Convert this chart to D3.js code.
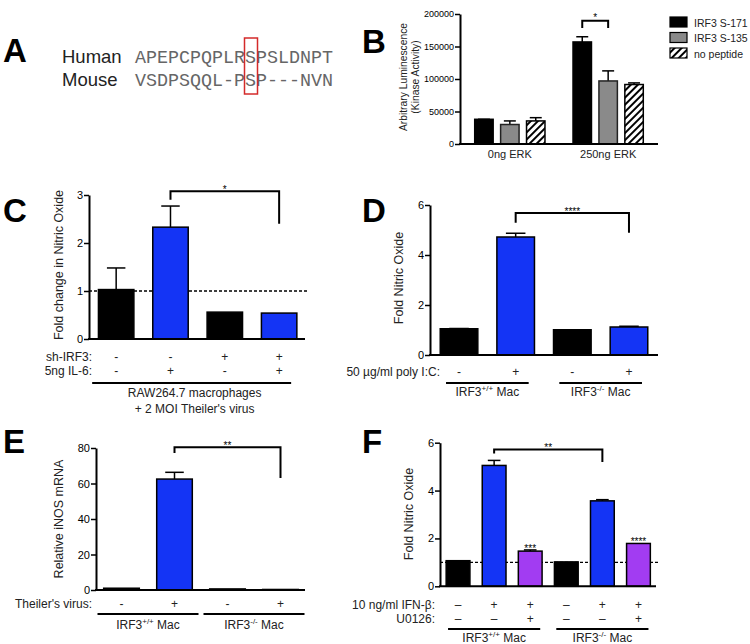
<!DOCTYPE html>
<html><head><meta charset="utf-8">
<script src="https://cdn.jsdelivr.net/npm/d3@7"></script>
<style>body{margin:0;background:#fff}svg text{font-family:"Liberation Sans",Arial,sans-serif;fill:#000}</style>
</head><body><svg id="c" width="750" height="644"></svg>
<script>
// ---------- Panel A data ----------
const seqSpecies = ["Human", "Mouse"];
const seqStrings = ["APEPCPQPLRSPSLDNPT", "VSDPSQQL-PSP---NVN"];
const seqHighlightIndex = 10;

// ---------- Panel B data ----------
const bGroups = ["0ng ERK", "250ng ERK"];
const bSeries = ["IRF3 S-171", "IRF3 S-135", "no peptide"];
const bMeans = [[38000, 30000, 35500], [157000, 97000, 91500]];
const bErrTop = [[38000, 35500, 40500], [165000, 112500, 94000]];
const bTicks = [0, 50000, 100000, 150000, 200000];
const bBracket = {from: [1, 0], to: [1, 1], top: 189700, end: 178500, label: "*"};

// ---------- Panel C data ----------
const cValues = [1.03, 2.33, 0.56, 0.54];
const cErrTop = [1.48, 2.77, null, null];
const cColors = ["black", "blue", "black", "blue"];
const cTicks = [0, 1, 2, 3];
const cRows = [["sh-IRF3:", ["-", "-", "+", "+"]], ["5ng IL-6:", ["-", "+", "-", "+"]]];
const cBracket = {from: 1, to: 3, top: 3.08, leftEnd: 2.9, rightEnd: 2.4, label: "*"};

// ---------- Panel D data ----------
const dValues = [1.05, 4.72, 1.01, 1.12];
const dErrTop = [1.06, 4.87, null, 1.15];
const dColors = ["black", "blue", "black", "blue"];
const dTicks = [0, 2, 4, 6];
const dRows = [["50 \u00b5g/ml poly I:C:", ["-", "+", "-", "+"]]];
const dBracket = {from: 1, to: 3, top: 5.68, leftEnd: 5.29, rightEnd: 4.89, label: "****"};

// ---------- Panel E data ----------
const eValues = [1.0, 62.5, 0.6, 0.3];
const eErrTop = [null, 66.3, null, null];
const eColors = ["black", "blue", "black", "blue"];
const eTicks = [0, 20, 40, 60, 80];
const eRows = [["Theiler's virus:", ["-", "+", "-", "+"]]];
const eBracket = {from: 1, to: 3, top: 80.4, leftEnd: 77.2, rightEnd: 63.1, label: "**"};

// ---------- Panel F data ----------
const fValues = [1.07, 5.05, 1.47, 1.02, 3.57, 1.79];
const fErrTop = [null, 5.26, 1.52, null, 3.62, null];
const fColors = ["black", "blue", "purple", "black", "blue", "purple"];
const fTicks = [0, 2, 4, 6];
const fRows = [["10 ng/ml IFN-\u03b2:", ["\u2013", "+", "+", "\u2013", "+", "+"]],
               ["U0126:", ["\u2013", "\u2013", "+", "\u2013", "\u2013", "+"]]];
const fStars = ["", "", "***", "", "", "****"];
const fBracket = {from: 1, to: 4, top: 5.72, leftEnd: 5.55, rightEnd: 5.19, label: "**"};

const groupLabels = [["+/+"], ["-/-"]];

// ---------- styles ----------
const palette = {black: "#000000", blue: "#1434f5", purple: "#a23cf2", gray: "#8a8a8a"};
const svg = d3.select("#c");

const defs = svg.append("defs");
const pat = defs.append("pattern").attr("id", "hatch").attr("patternUnits", "userSpaceOnUse")
  .attr("width", 5).attr("height", 5).attr("patternTransform", "rotate(45)");
pat.append("rect").attr("width", 5).attr("height", 5).attr("fill", "#fff");
pat.append("line").attr("x1", 1).attr("x2", 1).attr("y1", 0).attr("y2", 5)
  .attr("stroke", "#000").attr("stroke-width", 2);

// panel letters
const letters = [["A", 3, 62], ["B", 362, 53], ["C", 3, 222], ["D", 362, 222], ["E", 3, 453], ["F", 362, 453]];
svg.selectAll("text.letter").data(letters).join("text").attr("class", "letter")
  .attr("x", d => d[1]).attr("y", d => d[2]).text(d => d[0])
  .style("font-size", "33px").style("font-weight", "bold");

// ---------- Panel A ----------
const ga = svg.append("g");
seqSpecies.forEach((s, i) => {
  const yb = 63 + i * 23;
  ga.append("text").attr("x", 62).attr("y", yb).text(s).style("font-size", "18.5px").style("fill", "#222");
  ga.append("text").attr("x", 135).attr("y", yb).text(seqStrings[i])
    .attr("textLength", 198).attr("lengthAdjust", "spacingAndGlyphs")
    .style("font-family", "'Liberation Mono', monospace").style("font-size", "18px").style("fill", "#666");
});
{
  const cw = 198 / seqStrings[0].length;
  ga.append("rect").attr("x", 135 + seqHighlightIndex * cw - 0.5).attr("y", 38)
    .attr("width", cw + 2).attr("height", 56).attr("fill", "none")
    .attr("stroke", "#d42a2a").attr("stroke-width", 1.5);
}

// ---------- helpers ----------
function yAxis(g, y, x, ticks, fs) {
  const ax = d3.axisLeft(y).tickValues(ticks).tickSize(5).tickSizeOuter(0).tickPadding(1).tickFormat(d3.format("d"));
  const a = g.append("g").attr("transform", `translate(${x},0)`).call(ax);
  a.select(".domain").attr("stroke-width", 2).attr("stroke", "#000");
  a.selectAll(".tick line").attr("stroke-width", 1.5);
  a.selectAll(".tick text").style("font-size", fs).style("font-family", "'Liberation Sans',Arial,sans-serif").attr("fill", "#222");
}

function barPanel(o) {
  const g = svg.append("g");
  const n = o.values.length;
  const x = d3.scaleBand().domain(d3.range(n)).range([o.x0, o.x1]).paddingInner(o.pad).paddingOuter(o.pad / 2);
  const y = d3.scaleLinear().domain([0, o.ymax]).range([o.yb, o.yt]);
  const cx = i => x(i) + x.bandwidth() / 2;
  if (o.dash) {
    g.append("line").attr("x1", o.axisX).attr("x2", o.dashEnd).attr("y1", y(1)).attr("y2", y(1))
      .attr("stroke", "#000").attr("stroke-width", 1.3).attr("stroke-dasharray", "3,2");
  }
  o.errs.forEach((e, i) => {
    if (e == null) return;
    const w = x.bandwidth() * 0.25;
    g.append("line").attr("x1", cx(i)).attr("x2", cx(i)).attr("y1", y(o.values[i])).attr("y2", y(e))
      .attr("stroke", "#000").attr("stroke-width", 1.5);
    g.append("line").attr("x1", cx(i) - w).attr("x2", cx(i) + w).attr("y1", y(e)).attr("y2", y(e))
      .attr("stroke", "#000").attr("stroke-width", 1.5);
  });
  g.selectAll("rect.bar").data(o.values).join("rect").attr("class", "bar")
    .attr("x", (d, i) => x(i) + 0.75).attr("width", x.bandwidth() - 1.5)
    .attr("y", d => y(d)).attr("height", d => y(0) - y(d))
    .attr("fill", (d, i) => palette[o.colors[i]]).attr("stroke", "#000").attr("stroke-width", 1.5);
  yAxis(g, y, o.axisX, o.ticks, "11px");
  g.append("line").attr("x1", o.axisX - 1).attr("x2", o.xEnd).attr("y1", y(0)).attr("y2", y(0))
    .attr("stroke", "#000").attr("stroke-width", 2);
  g.append("text").attr("transform", `translate(${o.ylabX},${o.ylabY}) rotate(-90)`)
    .attr("text-anchor", "middle").text(o.ylab).style("font-size", "12.5px").style("fill", "#222");
  const b = o.bracket;
  g.append("path").attr("d", `M${cx(b.from)},${y(b.leftEnd)}V${y(b.top)}H${cx(b.to)}V${y(b.rightEnd)}`)
    .attr("fill", "none").attr("stroke", "#000").attr("stroke-width", 2);
  g.append("text").attr("x", (cx(b.from) + cx(b.to)) / 2).attr("y", y(b.top) + 2)
    .attr("text-anchor", "middle").text(b.label).style("font-size", "10px");
  if (o.stars) o.stars.forEach((s, i) => {
    if (!s) return;
    g.append("text").attr("x", cx(i)).attr("y", y(Math.max(o.values[i], o.errs[i] || 0)) + 2)
      .attr("text-anchor", "middle").text(s).style("font-size", "10px");
  });
  o.rows.forEach((r, k) => {
    const yb = o.rowY[k];
    g.append("text").attr("x", o.rowLabX).attr("y", yb).attr("text-anchor", "end").text(r[0])
      .style("font-size", "12px").style("fill", "#222");
    r[1].forEach((s, i) => g.append("text").attr("x", cx(i)).attr("y", yb).attr("text-anchor", "middle")
      .text(s).style("font-size", "12px").style("fill", "#222"));
  });
  o.groups.forEach((gr, k) => {
    const x1 = cx(gr.from) - o.ext[0], x2 = cx(gr.to) + o.ext[1];
    g.append("line").attr("x1", x1).attr("x2", x2).attr("y1", o.lineY).attr("y2", o.lineY)
      .attr("stroke", "#000").attr("stroke-width", 2);
    const mid = (x1 + x2) / 2;
    if (gr.lines) {
      gr.lines.forEach((t, j) => g.append("text").attr("x", mid + 3).attr("y", o.groupY + j * 16)
        .attr("text-anchor", "middle").text(t).style("font-size", "12px").style("fill", "#222"));
    } else {
      const t = g.append("text").attr("x", mid).attr("y", o.groupY).attr("text-anchor", "middle")
        .style("font-size", "12px").style("fill", "#222");
      t.append("tspan").text("IRF3");
      t.append("tspan").text(groupLabels[gr.g][0]).attr("dy", -5).style("font-size", "8px");
      t.append("tspan").text(" Mac").attr("dy", 5);
    }
  });
}

// ---------- Panel B ----------
{
  const g = svg.append("g");
  const x0 = d3.scaleBand().domain(d3.range(bGroups.length)).range([460, 658]).paddingInner(0.27).paddingOuter(0.142);
  const x1 = d3.scaleBand().domain(d3.range(bSeries.length)).range([0, x0.bandwidth()]).paddingInner(0.23);
  const y = d3.scaleLinear().domain([0, 200000]).range([144, 14]);
  const fills = [palette.black, palette.gray, "url(#hatch)"];
  bMeans.forEach((vals, gi) => {
    vals.forEach((v, si) => {
      const bx = x0(gi) + x1(si), cx = bx + x1.bandwidth() / 2, w = x1.bandwidth() * 0.3;
      const e = bErrTop[gi][si];
      g.append("line").attr("x1", cx).attr("x2", cx).attr("y1", y(v)).attr("y2", y(e)).attr("stroke", "#000").attr("stroke-width", 1.5);
      g.append("line").attr("x1", cx - w).attr("x2", cx + w).attr("y1", y(e)).attr("y2", y(e)).attr("stroke", "#000").attr("stroke-width", 1.5);
      g.append("rect").attr("x", bx + 0.75).attr("width", x1.bandwidth() - 1.5).attr("y", y(v)).attr("height", y(0) - y(v))
        .attr("fill", fills[si]).attr("stroke", si === 1 ? "#222" : "#000").attr("stroke-width", 1.5);
    });
  });
  yAxis(g, y, 460, bTicks, "9px");
  g.append("line").attr("x1", 459).attr("x2", 658).attr("y1", y(0)).attr("y2", y(0)).attr("stroke", "#000").attr("stroke-width", 2);
  bGroups.forEach((t, i) => g.append("text").attr("x", x0(i) + x0.bandwidth() / 2).attr("y", 158)
    .attr("text-anchor", "middle").text(t).style("font-size", "11px").style("fill", "#222"));
  const lab = g.append("text").attr("transform", "translate(407,77) rotate(-90)").attr("text-anchor", "middle")
    .style("font-size", "10.3px").style("fill", "#222");
  lab.append("tspan").attr("x", 0).text("Arbitrary Luminescence");
  lab.append("tspan").attr("x", 0).attr("dy", 12).text("(Kinase Activity)");
  const c = (gi, si) => x0(gi) + x1(si) + x1.bandwidth() / 2;
  const bxa = c(...bBracket.from), bxb = c(...bBracket.to);
  g.append("path").attr("d", `M${bxa},${y(bBracket.end)}V${y(bBracket.top)}H${bxb}V${y(bBracket.end)}`)
    .attr("fill", "none").attr("stroke", "#000").attr("stroke-width", 2);
  g.append("text").attr("x", (bxa + bxb) / 2).attr("y", y(bBracket.top)).attr("text-anchor", "middle").text(bBracket.label).style("font-size", "10px");
  bSeries.forEach((s, i) => {
    const ly = 17 + i * 15.5;
    g.append("rect").attr("x", 670).attr("y", ly).attr("width", 17).attr("height", 10)
      .attr("fill", fills[i]).attr("stroke", "#000").attr("stroke-width", 1.2);
    g.append("text").attr("x", 694).attr("y", ly + 9.5).text(s).style("font-size", "10.5px").style("fill", "#222");
  });
}

// ---------- Panel C ----------
barPanel({values: cValues, errs: cErrTop, colors: cColors, ticks: cTicks, ymax: 3,
  x0: 89, x1: 306.3, pad: 0.32, yb: 339, yt: 195, axisX: 89, xEnd: 305,
  dash: true, dashEnd: 307, ylab: "Fold change in Nitric Oxide", ylabX: 63, ylabY: 265,
  bracket: cBracket, rows: cRows, rowY: [361, 375], rowLabX: 92,
  groups: [{from: 0, to: 3, lines: ["RAW264.7 macrophages", "+ 2 MOI Theiler's virus"]}],
  ext: [24, 12], lineY: 383, groupY: 397});

// ---------- Panel D ----------
barPanel({values: dValues, errs: dErrTop, colors: dColors, ticks: dTicks, ymax: 6,
  x0: 430.7, x1: 657.3, pad: 0.31, yb: 355, yt: 205, axisX: 430, xEnd: 658,
  ylab: "Fold Nitric Oxide", ylabX: 403, ylabY: 278,
  bracket: dBracket, rows: dRows, rowY: [376], rowLabX: 440,
  groups: [{from: 0, to: 1, g: 0}, {from: 2, to: 3, g: 1}],
  ext: [13, 13], lineY: 383, groupY: 396});

// ---------- Panel E ----------
barPanel({values: eValues, errs: eErrTop, colors: eColors, ticks: eTicks, ymax: 80,
  x0: 95, x1: 307, pad: 0.3, yb: 590, yt: 448, axisX: 96, xEnd: 305,
  ylab: "Relative iNOS mRNA", ylabX: 63, ylabY: 519,
  bracket: eBracket, rows: eRows, rowY: [608], rowLabX: 92,
  groups: [{from: 0, to: 1, g: 0}, {from: 2, to: 3, g: 1}],
  ext: [24, 24], lineY: 614, groupY: 629});

// ---------- Panel F ----------
barPanel({values: fValues, errs: fErrTop, colors: fColors, ticks: fTicks, ymax: 6,
  x0: 440, x1: 656.5, pad: 0.3, yb: 586.3, yt: 442.7, axisX: 440, xEnd: 656,
  dash: true, dashEnd: 658, ylab: "Fold Nitric Oxide", ylabX: 413, ylabY: 514,
  bracket: fBracket, stars: fStars, rows: fRows, rowY: [609, 623], rowLabX: 435,
  groups: [{from: 0, to: 2, g: 0}, {from: 3, to: 5, g: 1}],
  ext: [10, 10], lineY: 629, groupY: 642});
</script></body></html>
